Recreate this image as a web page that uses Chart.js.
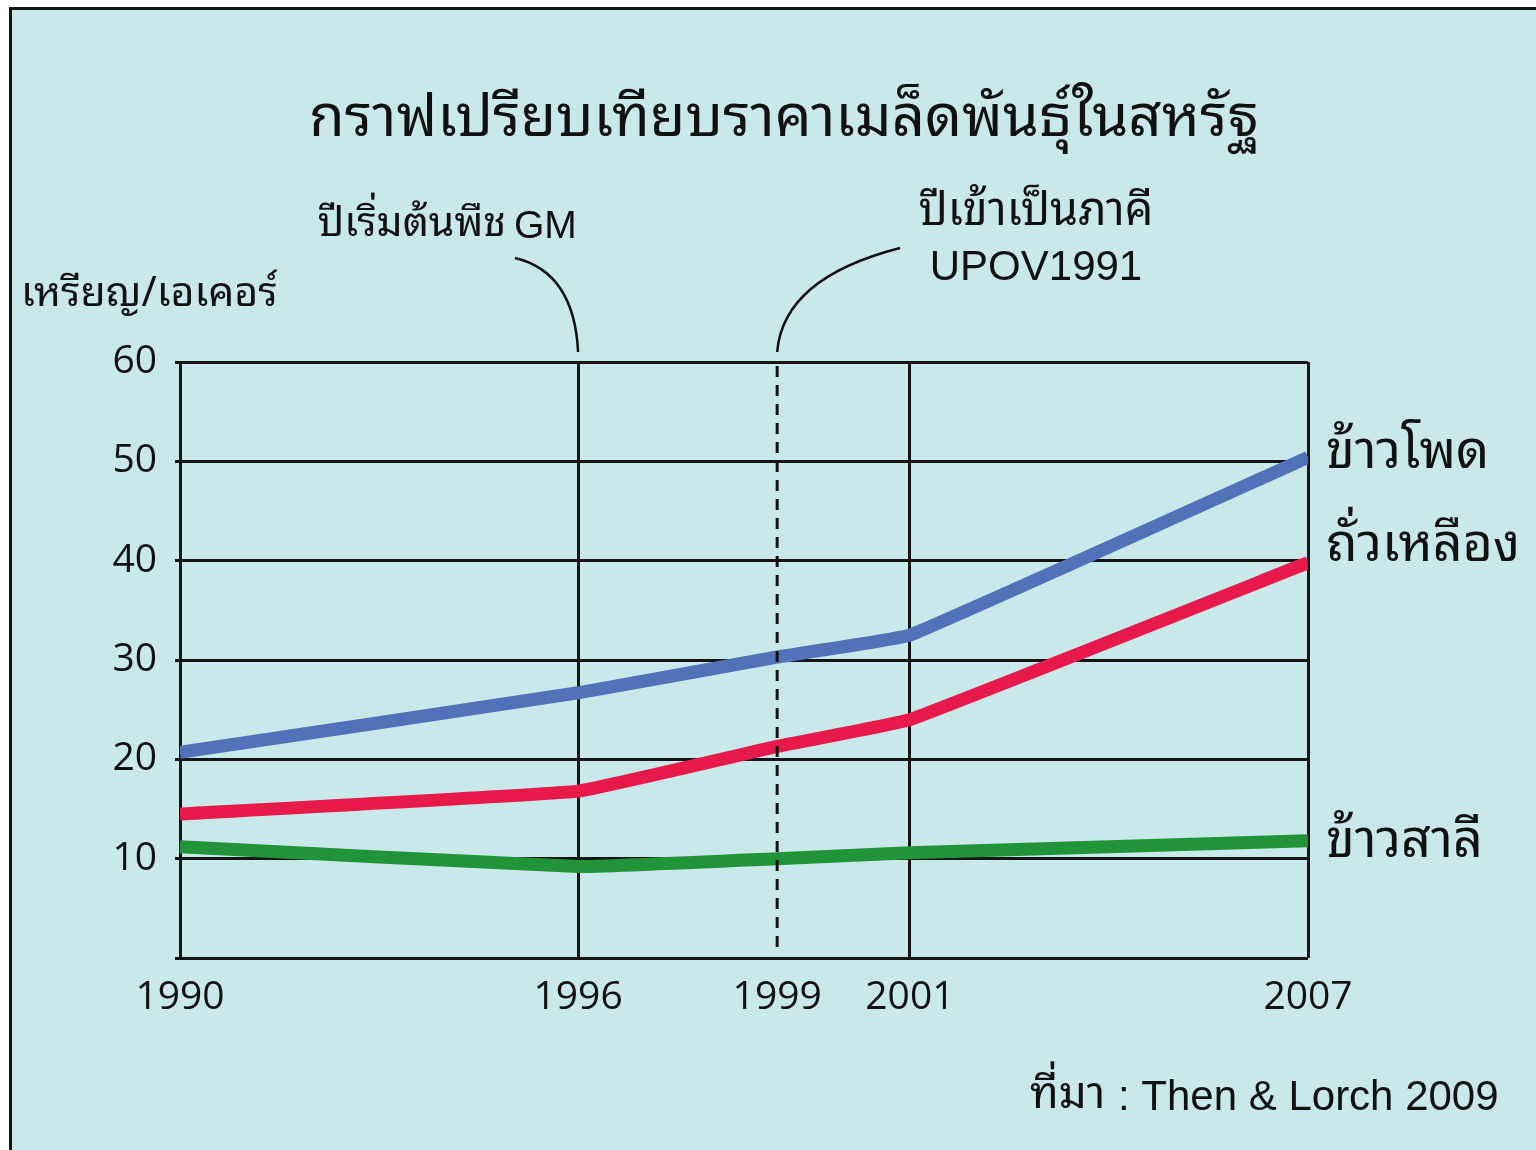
<!DOCTYPE html>
<html>
<head>
<meta charset="utf-8">
<script src="https://cdn.jsdelivr.net/npm/chart.js@4.4.1/dist/chart.umd.min.js"></script>
<style>
  body { margin: 0; background: #fff; }
  #wrap { position: relative; width: 1536px; height: 1150px; overflow: hidden; }
  #frame { position: absolute; left: 9px; top: 7px; width: 1600px; height: 1200px;
           background: #c9e8ea; border-left: 3px solid #151515; border-top: 3px solid #151515; }
  canvas { position: absolute; left: 0; top: 0; }
</style>
</head>
<body>
<div id="wrap">
  <div id="frame"></div>
  <canvas id="chart" width="1536" height="1150"></canvas>
</div>
<script>
const years = [1990, 1996, 1999, 2001, 2007];
const tickYears = [1990, 1996, 1999, 2001, 2007];
const corn = [20.7, 26.7, 30.3, 32.5, 50.4];
const soy = [14.5, 16.8, 21.3, 24.0, 39.8];
const rice = [11.2, 9.2, 10.0, 10.6, 11.8];
const seriesNames = ["ข้าวโพด", "ถั่วเหลือง", "ข้าวสาลี"];
const seriesColors = ["#5171b9", "#e8194b", "#21943a"];

const thai = '"Noto Sans Thai Looped", "Noto Sans Thai", Tahoma, "Noto Sans", sans-serif';
const latin = '"Liberation Sans", Arial, sans-serif';
const numFont = '"Open Sans", sans-serif';

function pts(vals) {
  return vals.map((v, i) => ({ x: years[i], y: v }));
}

// extra drawing: title, notes, dashed 1999 line, series labels
const notes = {
  id: "notes",
  afterDraw(chart) {
    const ctx = chart.ctx;
    const xs = chart.scales.x;
    const ys = chart.scales.y;
    const area = chart.chartArea;
    ctx.save();
    ctx.fillStyle = "#111";
    ctx.strokeStyle = "#111";

    // dashed line 1999
    const x99 = xs.getPixelForValue(1999);
    ctx.lineWidth = 3;
    ctx.setLineDash([11, 8]);
    ctx.beginPath();
    ctx.moveTo(x99, area.top + 4);
    ctx.lineTo(x99, area.bottom - 6);
    ctx.stroke();
    ctx.setLineDash([]);

    // title
    ctx.textAlign = "center";
    ctx.textBaseline = "middle";
    ctx.font = "58px " + thai;
    ctx.fillText("กราฟเปรียบเทียบราคาเมล็ดพันธุ์ในสหรัฐ", 784, 120);

    // y unit
    ctx.textAlign = "left";
    ctx.font = "41px " + thai;
    ctx.fillText("เหรียญ/เอเคอร์", 21, 294);

    // GM note
    ctx.font = "41px " + thai;
    ctx.textAlign = "right";
    ctx.fillText("ปีเริ่มต้นพืช", 506, 224);
    ctx.font = "39px " + latin;
    ctx.textAlign = "left";
    ctx.fillText("GM", 514, 227);
    const x96 = xs.getPixelForValue(1996);
    ctx.lineWidth = 2.5;
    ctx.beginPath();
    ctx.moveTo(515, 258);
    ctx.quadraticCurveTo(x96 - 4, 272, x96, area.top - 10);
    ctx.stroke();

    // UPOV note
    ctx.textAlign = "center";
    ctx.font = "45px " + thai;
    ctx.fillText("ปีเข้าเป็นภาคี", 1036, 212);
    ctx.font = "42px " + latin;
    ctx.fillText("UPOV1991", 1036, 268);
    ctx.beginPath();
    ctx.moveTo(900, 248);
    ctx.quadraticCurveTo(x99 + 6, 278, x99, area.top - 10);
    ctx.stroke();

    // series labels
    ctx.textAlign = "left";
    ctx.font = "52px " + thai;
    const last = years.length - 1;
    const offs = [-4, -16, 2];
    [corn, soy, rice].forEach((s, i) => {
      ctx.fillText(seriesNames[i], area.right + 18, ys.getPixelForValue(s[last]) + offs[i]);
    });

    // source
    ctx.textAlign = "left";
    ctx.font = "44px " + thai;
    ctx.fillText("ที่มา", 1030, 1096);
    ctx.font = "42px " + latin;
    ctx.fillText(": Then & Lorch 2009", 1118, 1098);
    ctx.restore();
  }
};

new Chart(document.getElementById("chart"), {
  type: "line",
  data: {
    datasets: [corn, soy, rice].map((s, i) => ({
      label: seriesNames[i],
      data: pts(s),
      borderColor: seriesColors[i],
      borderWidth: 13,
      borderCapStyle: "butt",
      pointRadius: 0,
      tension: 0.08,
      fill: false
    }))
  },
  options: {
    responsive: false,
    animation: false,
    layout: { padding: { top: 362, right: 228, left: 0, bottom: 0 } },
    plugins: { legend: { display: false }, tooltip: { enabled: false } },
    scales: {
      x: {
        type: "linear",
        min: 1990,
        max: 2007,
        z: 1,
        afterBuildTicks: (axis) => { axis.ticks = tickYears.map(v => ({ value: v })); },
        afterFit: (axis) => { axis.height = 192; },
        border: { display: false },
        grid: {
          lineWidth: 3,
          drawTicks: false,
          color: (c) => (c.tick && c.tick.value === 1999 ? "rgba(0,0,0,0)" : "#151515")
        },
        ticks: {
          color: "#111",
          padding: 16,
          maxRotation: 0,
          autoSkip: false,
          font: { family: numFont, size: 39 },
          callback: (v) => String(v)
        }
      },
      y: {
        min: 0,
        max: 60,
        z: 1,
        afterFit: (axis) => { axis.width = 180; },
        border: { display: false },
        grid: { lineWidth: 3, color: "#151515", drawTicks: true, tickLength: 5, tickColor: "#151515" },
        ticks: {
          stepSize: 10,
          color: "#111",
          padding: 18,
          font: { family: numFont, size: 39 },
          callback: (v) => (v === 0 ? "" : String(v))
        }
      }
    }
  },
  plugins: [notes]
});
</script>
</body>
</html>
